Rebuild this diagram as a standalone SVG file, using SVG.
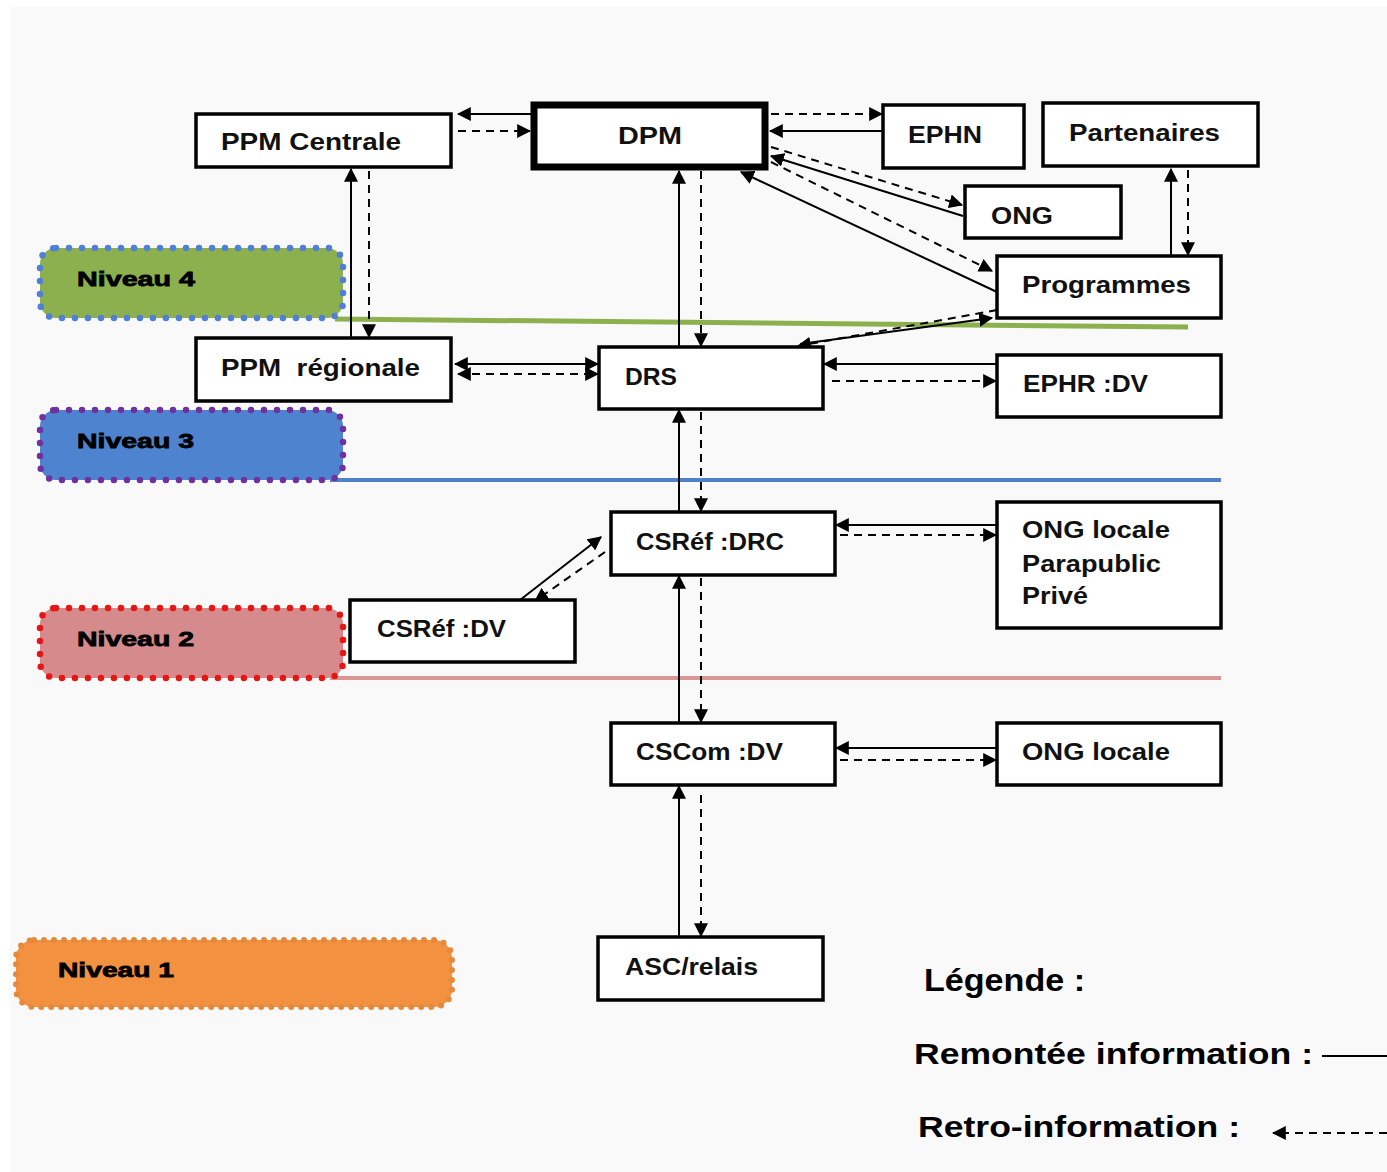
<svg xmlns="http://www.w3.org/2000/svg" width="1387" height="1172" viewBox="0 0 1387 1172">
<style>
.box{fill:#fff;stroke:#000;stroke-width:3.5}
.t{font-family:"Liberation Sans",Arial,sans-serif;font-weight:bold;font-size:23px;fill:#111}
.lv{font-family:"Liberation Sans",Arial,sans-serif;font-weight:900;font-size:21px;fill:#000;stroke:#000;stroke-width:0.8}
.lg{font-family:"Liberation Sans",Arial,sans-serif;font-weight:bold;fill:#000}
.s{stroke:#000;stroke-width:2;fill:none;marker-end:url(#a)}
.d{stroke:#000;stroke-width:2;fill:none;stroke-dasharray:8 6;marker-end:url(#a)}
.both{marker-start:url(#a)}
.dots{stroke-width:6.5;stroke-dasharray:0 13;stroke-linecap:round}
</style>
<defs>
<marker id="a" viewBox="0 0 12 12" refX="11" refY="6" markerWidth="14" markerHeight="14" markerUnits="userSpaceOnUse" orient="auto-start-reverse">
<path d="M0,0 L12,6 L0,12 z" fill="#000"/>
</marker>
</defs>
<rect x="0" y="0" width="1387" height="1172" fill="#fff"/>
<rect x="10" y="7" width="1377" height="1165" fill="#f9f9f9"/>

<g id="levels">
<line x1="335" y1="319" x2="1188" y2="327" stroke="#8db04f" stroke-width="5"/>
<line x1="330" y1="480" x2="1221" y2="480" stroke="#4f81c9" stroke-width="4"/>
<line x1="330" y1="678" x2="1221" y2="678" stroke="#d99694" stroke-width="4"/>
<g id="niveau4">
<rect class="dots" x="40" y="248" width="303" height="70" rx="16" fill="#8db04f" stroke="#4f7fd6"/>
<text class="lv" x="77" y="286" textLength="118" lengthAdjust="spacingAndGlyphs">Niveau 4</text>
</g>
<g id="niveau3">
<rect class="dots" x="40" y="410" width="303" height="70" rx="16" fill="#4e84cf" stroke="#7030a0"/>
<text class="lv" x="77" y="448" textLength="117" lengthAdjust="spacingAndGlyphs">Niveau 3</text>
</g>
<g id="niveau2">
<rect class="dots" x="40" y="608" width="303" height="70" rx="16" fill="#d58a8c" stroke="#e81515"/>
<text class="lv" x="77" y="646" textLength="117" lengthAdjust="spacingAndGlyphs">Niveau 2</text>
</g>
<g id="niveau1">
<rect x="16" y="940" width="436" height="67" rx="18" fill="#f29140" stroke="#e8883a" stroke-width="6" stroke-dasharray="0 10" stroke-linecap="round"/>
<text class="lv" x="58" y="977" textLength="116" lengthAdjust="spacingAndGlyphs">Niveau 1</text>
</g>
</g>

<g id="connectors">
<line class="s" x1="531" y1="114" x2="458" y2="114"/>
<line class="d" x1="458" y1="131" x2="530" y2="131"/>
<line class="s" x1="883" y1="131" x2="770" y2="131"/>
<line class="d" x1="771" y1="114" x2="882" y2="114"/>
<line class="s" x1="963" y1="216" x2="771" y2="156"/>
<line class="d" x1="771" y1="147" x2="962" y2="205"/>
<line class="s" x1="997" y1="292" x2="741" y2="172"/>
<line class="d" x1="771" y1="162" x2="992" y2="271"/>
<line class="s" x1="1171" y1="256" x2="1171" y2="169"/>
<line class="d" x1="1188" y1="170" x2="1188" y2="255"/>
<line class="s" x1="351" y1="338" x2="351" y2="169"/>
<line class="d" x1="369" y1="171" x2="369" y2="337"/>
<line class="s" x1="679" y1="347" x2="679" y2="171"/>
<line class="d" x1="701" y1="171" x2="701" y2="346"/>
<line class="s both" x1="455" y1="364" x2="598" y2="364"/>
<line class="d both" x1="458" y1="374" x2="598" y2="374"/>
<line class="s" x1="800" y1="344" x2="992" y2="318"/>
<line class="d" x1="997" y1="310" x2="798" y2="346"/>
<line class="s" x1="997" y1="364" x2="824" y2="364"/>
<line class="d" x1="832" y1="381" x2="996" y2="381"/>
<line class="s" x1="679" y1="512" x2="679" y2="410"/>
<line class="d" x1="701" y1="412" x2="701" y2="511"/>
<line class="s" x1="997" y1="525" x2="836" y2="525"/>
<line class="d" x1="840" y1="535" x2="996" y2="535"/>
<line class="s" x1="520" y1="600" x2="601" y2="537"/>
<line class="d" x1="605" y1="552" x2="535" y2="601"/>
<line class="s" x1="679" y1="723" x2="679" y2="576"/>
<line class="d" x1="701" y1="578" x2="701" y2="722"/>
<line class="s" x1="997" y1="748" x2="836" y2="748"/>
<line class="d" x1="840" y1="760" x2="996" y2="760"/>
<line class="s" x1="679" y1="937" x2="679" y2="786"/>
<line class="d" x1="701" y1="795" x2="701" y2="936"/>
</g>

<g id="ppm-centrale"><rect class="box" x="196" y="114" width="255" height="53"/><text class="t" x="221" y="150" textLength="180" lengthAdjust="spacingAndGlyphs">PPM Centrale</text></g>
<g id="dpm"><rect x="534" y="105" width="231" height="62" fill="#fff" stroke="#000" stroke-width="7"/><text class="t" x="618" y="144" textLength="64" lengthAdjust="spacingAndGlyphs">DPM</text></g>
<g id="ephn"><rect class="box" x="883" y="105" width="141" height="63"/><text class="t" x="908" y="143" textLength="74" lengthAdjust="spacingAndGlyphs">EPHN</text></g>
<g id="partenaires"><rect class="box" x="1043" y="103" width="215" height="63"/><text class="t" x="1069" y="141" textLength="151" lengthAdjust="spacingAndGlyphs">Partenaires</text></g>
<g id="ong"><rect class="box" x="965" y="186" width="156" height="52"/><text class="t" x="991" y="224" textLength="62" lengthAdjust="spacingAndGlyphs">ONG</text></g>
<g id="programmes"><rect class="box" x="997" y="256" width="224" height="62"/><text class="t" x="1022" y="293" textLength="169" lengthAdjust="spacingAndGlyphs">Programmes</text></g>
<g id="ppm-regionale"><rect class="box" x="196" y="338" width="255" height="63"/><text class="t" x="221" y="376" textLength="199" lengthAdjust="spacingAndGlyphs" xml:space="preserve">PPM  régionale</text></g>
<g id="drs"><rect class="box" x="599" y="347" width="224" height="62"/><text class="t" x="625" y="385" textLength="52" lengthAdjust="spacingAndGlyphs">DRS</text></g>
<g id="ephr"><rect class="box" x="997" y="355" width="224" height="62"/><text class="t" x="1023" y="392" textLength="125" lengthAdjust="spacingAndGlyphs">EPHR :DV</text></g>
<g id="csref-drc"><rect class="box" x="611" y="512" width="224" height="63"/><text class="t" x="636" y="550" textLength="148" lengthAdjust="spacingAndGlyphs">CSRéf :DRC</text></g>
<g id="ong-locale-parapublic"><rect class="box" x="997" y="502" width="224" height="126"/>
<text class="t" x="1022" y="538" textLength="148" lengthAdjust="spacingAndGlyphs">ONG locale</text>
<text class="t" x="1022" y="572" textLength="139" lengthAdjust="spacingAndGlyphs">Parapublic</text>
<text class="t" x="1022" y="604" textLength="66" lengthAdjust="spacingAndGlyphs">Privé</text></g>
<g id="csref-dv"><rect class="box" x="350" y="600" width="225" height="62"/><text class="t" x="377" y="637" textLength="129" lengthAdjust="spacingAndGlyphs">CSRéf :DV</text></g>
<g id="cscom"><rect class="box" x="611" y="723" width="224" height="62"/><text class="t" x="636" y="760" textLength="147" lengthAdjust="spacingAndGlyphs">CSCom :DV</text></g>
<g id="ong-locale"><rect class="box" x="997" y="723" width="224" height="62"/><text class="t" x="1022" y="760" textLength="148" lengthAdjust="spacingAndGlyphs">ONG locale</text></g>
<g id="asc"><rect class="box" x="598" y="937" width="225" height="63"/><text class="t" x="625" y="975" textLength="133" lengthAdjust="spacingAndGlyphs">ASC/relais</text></g>

<g id="legende">
<text class="lg" x="924" y="991" font-size="32" textLength="161" lengthAdjust="spacingAndGlyphs">Légende :</text>
<text class="lg" x="914" y="1064" font-size="29" textLength="399" lengthAdjust="spacingAndGlyphs">Remontée information :</text>
<line x1="1322" y1="1056" x2="1387" y2="1056" stroke="#000" stroke-width="2"/>
<text class="lg" x="918" y="1137" font-size="29" textLength="322" lengthAdjust="spacingAndGlyphs">Retro-information :</text>
<line class="d" x1="1387" y1="1133" x2="1273" y2="1133"/>
</g>
</svg>
